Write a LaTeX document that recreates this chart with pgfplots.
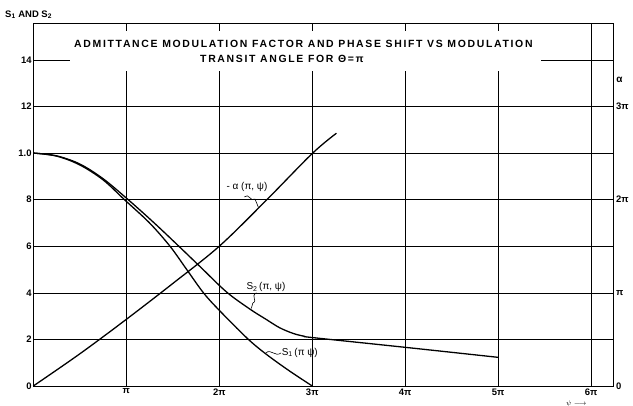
\documentclass[border=0pt]{standalone}
\usepackage{fontspec}
\setmainfont{Liberation Sans}
\newfontfamily\titlefont[LetterSpace=16]{Liberation Sans}
\usepackage{pgfplots}
\pgfplotsset{compat=1.18}

\begin{document}
\begin{tikzpicture}
\useasboundingbox (-33.3bp,-20bp) rectangle (599.7bp,386bp);
\begin{axis}[
  scale only axis, width=580.2bp, height=362bp,
  at={(0,0)}, anchor=south west,
  xmin=0, xmax=6.24, ymin=0, ymax=15.54,
  xtick={1,2,3,4,5,6}, xticklabels={π,2π,3π,4π,5π,6π},
  ytick={0,2,4,6,8,10,12,14}, yticklabels={0,2,4,6,8,1.0,12,14},
  grid=major, major grid style={black, line width=0.55pt},
  major tick length=0pt,
  axis line style={black, line width=1pt},
  tick label style={font=\bfseries\fontsize{9.5}{10}\selectfont},
  xticklabel style={inner sep=1pt, yshift=-1.5bp},
  yticklabel style={inner sep=1.5pt},
  clip=false,
]
% title box
\fill[white] (axis cs:0.395,13.52) rectangle (axis cs:5.46,15.24);
\node[font=\titlefont\bfseries\fontsize{10.5}{11}\selectfont] at (axis cs:2.905,14.68)
  {ADMITTANCE MODULATION FACTOR AND PHASE SHIFT VS MODULATION};
\node[font=\titlefont\bfseries\fontsize{10.5}{11}\selectfont] at (axis cs:2.674,14.04)
  {TRANSIT ANGLE FOR Θ=π};

% S1
\addplot[black, line width=1.3pt, smooth, tension=0.55] coordinates {
 (0,10) (0.25,9.87) (0.5,9.49) (0.75,8.85) (0.98,8.0) (1.25,7.0) (1.47,6.0)
 (1.65,5.0) (1.83,4.0) (2.0,3.25) (2.3,2.05) (2.5,1.38) (2.75,0.66) (3.0,0)
};
% S2
\addplot[black, line width=1.3pt, smooth, tension=0.55] coordinates {
 (0,10) (0.25,9.88) (0.5,9.53) (0.75,8.9) (1.02,8.0) (1.3,7.0) (1.56,6.02)
 (1.8,5.1) (2.08,4.03) (2.33,3.3) (2.5,2.87) (2.65,2.5) (2.8,2.25) (2.92,2.13)
 (3.0,2.08) (4.0,1.66) (5.0,1.23)
};
% -alpha
\addplot[black, line width=1.3pt, smooth, tension=0.55] coordinates {
 (0,0) (0.5,1.38) (1.0,2.86) (1.5,4.4) (2.0,6.0) (2.5,7.95) (3.0,9.98) (3.26,10.85)
};

% curve labels
\node[font=\fontsize{10}{10}\selectfont] at (axis cs:2.298,8.54) {- α (π, ψ)};
\draw[black, line width=0.6pt] (axis cs:2.27,8.12) .. controls (axis cs:2.32,8.3) and (axis cs:2.33,7.9) .. (axis cs:2.385,8.02) -- (axis cs:2.42,7.68);
\node[font=\fontsize{10}{10}\selectfont] at (axis cs:2.502,4.25) {S\textsubscript{2}\,(π, ψ)};
\draw[black, line width=0.6pt] (axis cs:2.40,4.0) .. controls (axis cs:2.33,3.85) and (axis cs:2.42,3.7) .. (axis cs:2.36,3.55) -- (axis cs:2.345,3.33);
\node[font=\fontsize{10}{10}\selectfont, anchor=west, inner sep=0pt] at (axis cs:2.67,1.42) {S\textsubscript{1}\,(π ψ)};
\draw[black, line width=0.6pt] (axis cs:2.50,1.42) .. controls (axis cs:2.56,1.62) and (axis cs:2.60,1.22) .. (axis cs:2.665,1.42);

% axis titles
\node[font=\bfseries\fontsize{9.5}{10}\selectfont, anchor=west, inner sep=0pt] at (axis cs:-0.304,15.93) {S\textsubscript{1} AND S\textsubscript{2}};
\node[font=\bfseries\fontsize{10}{10}\selectfont, anchor=west, inner sep=0pt] at (axis cs:6.27,13.14) {α};
\node[font=\bfseries\fontsize{7}{7}\selectfont, inner sep=0pt] at (axis cs:5.84,-0.76) {$\psi\longrightarrow$};
\end{axis}
\begin{axis}[
  scale only axis, width=580.2bp, height=362bp,
  at={(0,0)}, anchor=south west,
  xmin=0, xmax=6.24, ymin=0, ymax=15.54,
  axis x line=none, axis y line*=right,
  axis line style={black, line width=1pt},
  ytick={0,4,8,12}, yticklabels={0,π,2π,3π},
  major tick length=0pt,
  tick label style={font=\bfseries\fontsize{9.5}{10}\selectfont},
  yticklabel style={inner sep=1.5pt, xshift=1bp},
]
\end{axis}
\end{tikzpicture}
\end{document}
